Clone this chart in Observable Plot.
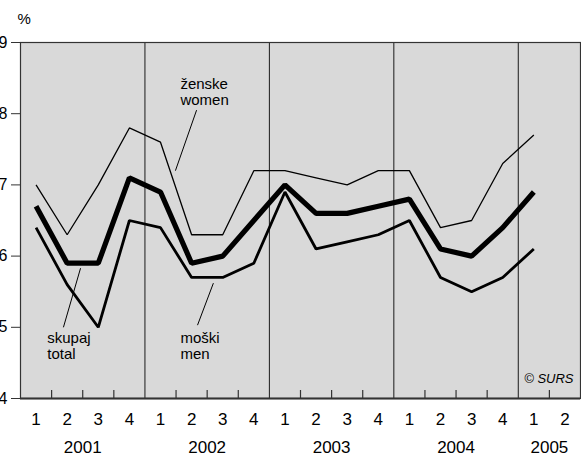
<!DOCTYPE html>
<html><head><meta charset="utf-8">
<script src="https://cdn.jsdelivr.net/npm/d3@7"></script>
<script src="https://cdn.jsdelivr.net/npm/@observablehq/plot@0.6"></script>
<style>body{margin:0;background:#fff}</style>
</head><body><div id="chart"></div>
<script>
// ---- data ----
const quarterLabels = ["1","2","3","4","1","2","3","4","1","2","3","4","1","2","3","4","1","2"];
const years = ["2001","2002","2003","2004","2005"];
const quartersPerYear = [4,4,4,4,2];
const yTicks = [4,5,6,7,8,9];
const total = [6.7,5.9,5.9,7.1, 6.9,5.9,6.0,6.5, 7.0,6.6,6.6,6.7, 6.8,6.1,6.0,6.4, 6.9];
const women = [7.0,6.3,7.0,7.8, 7.6,6.3,6.3,7.2, 7.2,7.1,7.0,7.2, 7.2,6.4,6.5,7.3, 7.7];
const men   = [6.4,5.6,5.0,6.5, 6.4,5.7,5.7,5.9, 6.9,6.1,6.2,6.3, 6.5,5.7,5.5,5.7, 6.1];
// annotation labels (in data coordinates: quarter index, percent)
const labelTexts = ["ženske\nwomen", "skupaj\ntotal", "moški\nmen"];
const labelX = [5.14, 0.86, 5.14];
const labelY = [8.31, 4.74, 4.74];
const leaderX1 = [5.66, 1.93, 6.20];
const leaderY1 = [8.05, 5.83, 5.62];
const leaderX2 = [4.98, 1.38, 5.69];
const leaderY2 = [7.20, 5.00, 5.03];

// ---- derived tables ----
const toRows = arr => arr.map((v, i) => ({x: i + 0.5, y: v}));
const bounds = d3.cumsum([0, ...quartersPerYear]); // 0,4,8,12,16,18
const nQ = quarterLabels.length;
const dividers = Array.from(bounds).slice(1, -1);
const minorTicks = d3.range(1, nQ).filter(i => !dividers.includes(i));
const yearRows = years.map((yr, i) => ({x: (bounds[i] + bounds[i + 1]) / 2, text: yr}));
const qRows = quarterLabels.map((q, i) => ({x: i + 0.5, text: q}));
const labels = labelTexts.map((t, i) => ({text: t, x: labelX[i], y: labelY[i]}));
const leaders = labelTexts.map((t, i) => ({x1: leaderX1[i], y1: leaderY1[i], x2: leaderX2[i], y2: leaderY2[i]}));

const font = "'Liberation Sans', Arial, Helvetica, sans-serif";

const chart = Plot.plot({
  width: 581,
  height: 457,
  marginLeft: 20,
  marginRight: 1,
  marginTop: 42,
  marginBottom: 59,
  style: {fontFamily: font, color: "#000", background: "#fff"},
  x: {domain: [0, nQ], axis: null},
  y: {domain: [4, 9], axis: null},
  marks: [
    Plot.frame({fill: "#d9d9d9", stroke: null}),
    Plot.ruleX(dividers, {stroke: "#1a1a1a", strokeWidth: 1}),
    Plot.ruleX(minorTicks, {insetTop: 348, stroke: "#333", strokeWidth: 1.2}),
    Plot.line(toRows(women), {x: "x", y: "y", stroke: "#000", strokeWidth: 1.3, strokeLinejoin: "miter", strokeLinecap: "butt"}),
    Plot.line(toRows(men), {x: "x", y: "y", stroke: "#000", strokeWidth: 2.8, strokeLinejoin: "miter", strokeLinecap: "butt"}),
    Plot.line(toRows(total), {x: "x", y: "y", stroke: "#000", strokeWidth: 5.2, strokeLinejoin: "miter", strokeLinecap: "butt"}),
    Plot.link(leaders, {x1: "x1", y1: "y1", x2: "x2", y2: "y2", stroke: "#000", strokeWidth: 1}),
    Plot.text(labels, {x: "x", y: "y", text: "text", textAnchor: "start", lineAnchor: "middle", fontSize: 15, lineHeight: 1.05, fill: "#000"}),
    Plot.frame({stroke: "#333", strokeWidth: 1.2}),
    Plot.ruleY([4], {stroke: "#333", strokeWidth: 2.2}),
    Plot.axisY({ticks: yTicks, tickSize: 9, tickPadding: 4, fontSize: 16, label: null, stroke: "#333", text: null}),
    Plot.text(yTicks, {y: d => d, text: d => String(d), frameAnchor: "left", dx: -13, textAnchor: "end", lineAnchor: "middle", fontSize: 16, fill: "#000"}),
    Plot.text(qRows, {x: "x", text: "text", frameAnchor: "bottom", dy: 21, lineAnchor: "middle", fontSize: 17, fill: "#000"}),
    Plot.text(yearRows, {x: "x", text: "text", frameAnchor: "bottom", dy: 49.5, lineAnchor: "middle", fontSize: 17, fill: "#000"}),
    Plot.text(["%"], {frameAnchor: "top-left", dx: -3, dy: -23, textAnchor: "start", lineAnchor: "middle", fontSize: 15, fill: "#000"}),
    Plot.text(["© SURS"], {frameAnchor: "bottom-right", dx: -7, dy: -20, textAnchor: "end", lineAnchor: "middle", fontSize: 13, fontStyle: "italic", fill: "#000"})
  ]
});
document.getElementById("chart").appendChild(chart);
</script>
</body></html>
